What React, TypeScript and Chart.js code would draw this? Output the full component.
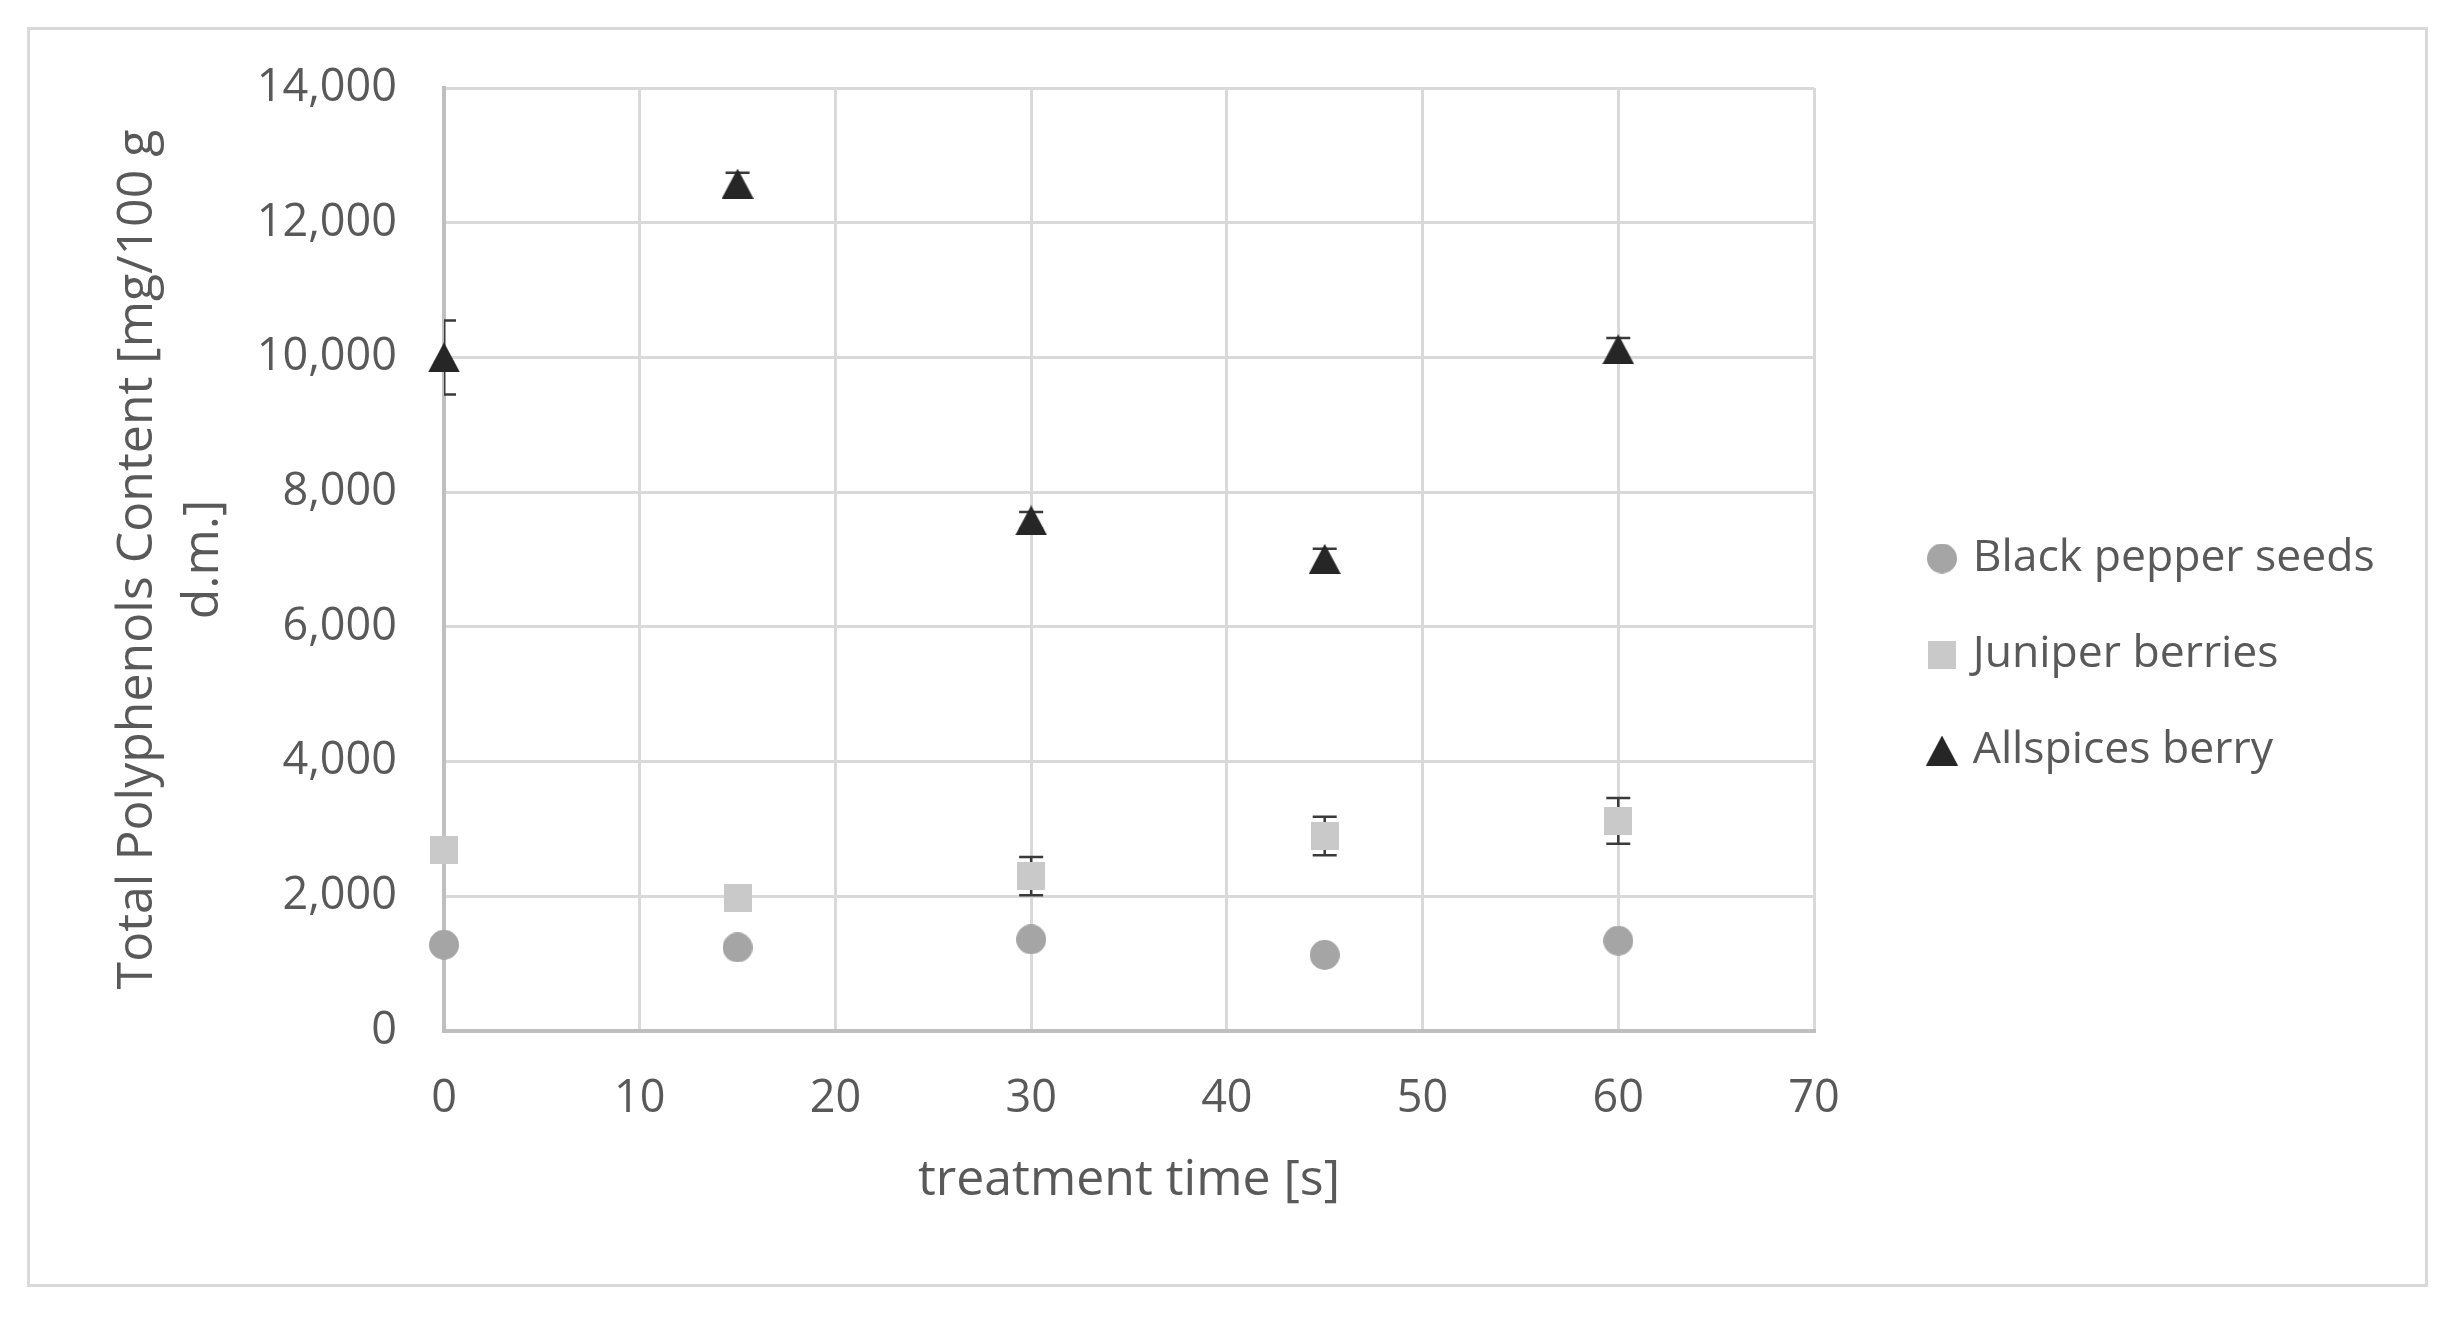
import React, { useEffect, useRef } from 'react';
import { Chart, registerables } from 'chart.js';

Chart.register(...registerables);

// ---- data ----
const treatmentTimes = [0, 15, 30, 45, 60];
const seriesNames = ['Black pepper seeds', 'Juniper berries', 'Allspices berry'];
const blackPepper = [1280, 1240, 1360, 1130, 1340];
const blackPepperErr = [40, 40, 40, 40, 40];
const juniper = [2680, 1980, 2300, 2895, 3120];
const juniperErr = [100, 80, 285, 285, 340];
const allspice = [10000, 12580, 7580, 7010, 10120];
const allspiceErr = [550, 160, 125, 150, 170];

const xAxisTitle = 'treatment time [s]';
const yAxisTitle = ['Total Polyphenols Content [mg/100 g', 'd.m.]'];
const X_MIN = 0;
const X_MAX = 70;
const X_STEP = 10;
const Y_MIN = 0;
const Y_MAX = 14000;
const Y_STEP = 2000;

const TEXT = '#595959';
const GRID = '#d9d9d9';
const AXIS = '#bfbfbf';
const FONT = "'Open Sans', sans-serif";
const LEGEND_FONT_SIZE = 44.5;
const LEGEND_PAD = 51.5;
const LEGEND_BOX_W = 85;
const LEGEND_MARKER_OFFSET = 34; // marker shift to the right inside the legend box
const CHART_RIGHT = 1814;
const CANVAS_W = 2458;
const CANVAS_H = 1317;

const markerSpecs = [
  { shape: 'circle', color: '#a5a5a5', w: 30, h: 30 },
  { shape: 'square', color: '#c9c9c9', w: 28, h: 28 },
  { shape: 'triangle', color: '#262626', w: 32, h: 30 },
];

function makeMarker(shape: string, color: string, w: number, h: number, padLeft = 0) {
  const c = document.createElement('canvas');
  c.width = w + padLeft;
  c.height = h;
  const ctx = c.getContext('2d')!;
  ctx.translate(padLeft, 0);
  ctx.fillStyle = color;
  ctx.beginPath();
  if (shape === 'circle') {
    ctx.arc(w / 2, h / 2, w / 2, 0, Math.PI * 2);
  } else if (shape === 'square') {
    ctx.rect(0, 0, w, h);
  } else {
    ctx.moveTo(w / 2, 0);
    ctx.lineTo(w, h);
    ctx.lineTo(0, h);
    ctx.closePath();
  }
  ctx.fill();
  return c;
}

const errorSets = [blackPepperErr, juniperErr, allspiceErr];

const errorBarPlugin = {
  id: 'errorBars',
  beforeDatasetsDraw(chart: any) {
    const { ctx, chartArea, scales } = chart;
    const xs = scales.x;
    const ys = scales.y;
    const cap = 12;
    ctx.save();
    ctx.beginPath();
    ctx.rect(chartArea.left, chartArea.top, chartArea.right - chartArea.left, chartArea.bottom - chartArea.top);
    ctx.clip();
    ctx.strokeStyle = '#3a3a3a';
    ctx.lineWidth = 2.5;
    chart.data.datasets.forEach((ds: any, di: number) => {
      const errs = errorSets[di];
      ds.data.forEach((p: any, i: number) => {
        const px = xs.getPixelForValue(p.x);
        const top = ys.getPixelForValue(p.y + errs[i]);
        const bot = ys.getPixelForValue(p.y - errs[i]);
        ctx.beginPath();
        ctx.moveTo(px, top);
        ctx.lineTo(px, bot);
        ctx.moveTo(px - cap, top);
        ctx.lineTo(px + cap, top);
        ctx.moveTo(px - cap, bot);
        ctx.lineTo(px + cap, bot);
        ctx.stroke();
      });
    });
    ctx.restore();
  },
};

export default function App() {
  const canvasRef = useRef<HTMLCanvasElement | null>(null);

  useEffect(() => {
    if (!canvasRef.current) return;
    const pointMarkers = markerSpecs.map((m) => makeMarker(m.shape, m.color, m.w, m.h));
    const legendMarkers = markerSpecs.map((m) => makeMarker(m.shape, m.color, m.w, m.h, 2 * LEGEND_MARKER_OFFSET));

    // measure legend text so that the legend box starts right at the plot's right edge
    const mctx = document.createElement('canvas').getContext('2d')!;
    mctx.font = `${LEGEND_FONT_SIZE}px ${FONT}`;
    const maxText = Math.max(...seriesNames.map((s) => mctx.measureText(s).width));
    const legendWidth = LEGEND_PAD + LEGEND_BOX_W + LEGEND_FONT_SIZE / 2 + maxText + 10;
    const padRight = Math.max(0, CANVAS_W - CHART_RIGHT - legendWidth);

    const toPoints = (vals: number[]) => treatmentTimes.map((x, i) => ({ x, y: vals[i] }));
    const seriesValues = [blackPepper, juniper, allspice];

    const chart = new Chart(canvasRef.current, {
      type: 'scatter',
      data: {
        datasets: seriesValues.map((vals, i) => ({
          label: seriesNames[i],
          data: toPoints(vals),
          pointStyle: pointMarkers[i] as any,
          backgroundColor: markerSpecs[i].color,
          borderColor: markerSpecs[i].color,
          clip: false as any,
        })),
      },
      options: {
        responsive: false,
        animation: false,
        devicePixelRatio: 1,
        layout: { padding: { left: 0, top: 88, right: padRight, bottom: 96 } },
        plugins: {
          tooltip: { enabled: false },
          legend: {
            position: 'right',
            align: 'center',
            labels: {
              usePointStyle: true,
              pointStyleWidth: LEGEND_BOX_W,
              boxWidth: LEGEND_BOX_W,
              boxHeight: 30,
              padding: LEGEND_PAD,
              color: TEXT,
              font: { family: FONT, size: LEGEND_FONT_SIZE },
              generateLabels: (c: any) => {
                const items = (Chart.defaults as any).plugins.legend.labels.generateLabels(c);
                items.forEach((it: any, i: number) => { it.pointStyle = legendMarkers[i]; });
                return items;
              },
            },
          },
        },
        scales: {
          x: {
            type: 'linear',
            min: X_MIN,
            max: X_MAX,
            ticks: { stepSize: X_STEP, color: TEXT, padding: 41, font: { family: FONT, size: 45 } },
            grid: { color: GRID, lineWidth: 3, drawTicks: false },
            border: { color: AXIS, width: 4 },
            title: { display: true, text: xAxisTitle, color: TEXT, font: { family: FONT, size: 50, lineHeight: 1.2 }, padding: { top: 0, bottom: 10 } },
            afterFit: (s: any) => { s.height = 190; },
          },
          y: {
            type: 'linear',
            min: Y_MIN,
            max: Y_MAX,
            ticks: {
              stepSize: Y_STEP,
              color: TEXT,
              padding: 47,
              font: { family: FONT, size: 45 },
              callback: (v: any) => Number(v).toLocaleString('en-US'),
            },
            grid: { color: GRID, lineWidth: 3, drawTicks: false },
            border: { color: AXIS, width: 4 },
            title: { display: true, text: yAxisTitle, color: TEXT, font: { family: FONT, size: 50, lineHeight: 1.32 }, padding: { top: 105, bottom: 0 } },
            afterFit: (s: any) => { s.width = 444; },
          },
        },
      } as any,
      plugins: [errorBarPlugin],
    });
    return () => chart.destroy();
  }, []);

  return (
    <div style={{ position: 'absolute', left: 0, top: 0, width: CANVAS_W, height: CANVAS_H, background: '#ffffff', overflow: 'hidden' }}>
      <canvas ref={canvasRef} width={CANVAS_W} height={CANVAS_H} style={{ position: 'absolute', left: 0, top: 0, display: 'block' }} />
      <div style={{ position: 'absolute', left: 27, top: 27, width: 2401, height: 1260, border: '3px solid #d9d9d9', boxSizing: 'border-box', pointerEvents: 'none' }} />
    </div>
  );
}
